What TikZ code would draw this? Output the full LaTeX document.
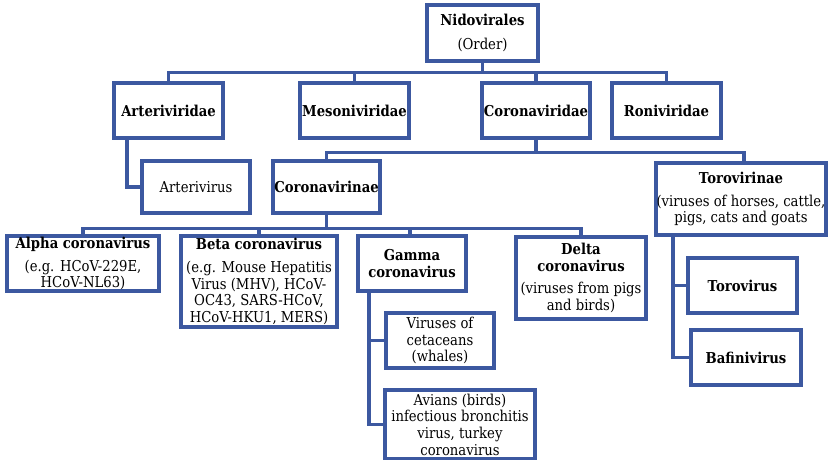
\documentclass[tikz,border=0pt]{standalone}
\usepackage{fontspec}
\setmainfont{DejaVu Serif}[FakeStretch=0.88]
\definecolor{boxblue}{RGB}{60,88,160}
\begin{document}
\begin{tikzpicture}[x=1pt,y=-1pt,
  box/.style={draw=boxblue, line width=3.4pt, fill=white, inner sep=0pt, align=center,
    font=\fontsize{15}{16.7}\selectfont, text=black},
  conn/.style={draw=boxblue, line width=3.4pt, line join=miter}]
\fill[white] (0,0) rectangle (828,460);
\useasboundingbox (0,0) rectangle (828,460);

% boxes
\node[box, minimum width=111pt, minimum height=56pt] (nido) at (482.5,33) {\textbf{Nidovirales}\\[7pt](Order)};
\node[box, minimum width=109pt, minimum height=55pt] (arteriviridae) at (168.5,110.5) {\textbf{Arteriviridae}};
\node[box, minimum width=109pt, minimum height=55pt] (mesoniviridae) at (354.5,110.5) {\textbf{Mesoniviridae}};
\node[box, minimum width=108pt, minimum height=55pt] (coronaviridae) at (536,110.5) {\textbf{Coronaviridae}};
\node[box, minimum width=109pt, minimum height=55pt] (roniviridae) at (666.5,110.5) {\textbf{Roniviridae}};
\node[box, minimum width=108pt, minimum height=52pt] (arterivirus) at (196,187) {Arterivirus};
\node[box, minimum width=107pt, minimum height=52pt] (coronavirinae) at (326.5,187) {\textbf{Coronavirinae}};
\node[box, minimum width=170pt, minimum height=72pt] (torovirinae) at (741,199) {\textbf{Torovirinae}\\[6pt](viruses of horses, cattle,\\pigs, cats and goats};
\node[box, minimum width=152pt, minimum height=55pt] (alpha) at (83,263.5) {\textbf{Alpha coronavirus}\\[6pt](e.g. HCoV-229E,\\HCoV-NL63)};
\node[box, minimum width=156pt, minimum height=91pt] (beta) at (259,281.5) {\textbf{Beta coronavirus}\\[6pt](e.g. Mouse Hepatitis\\Virus (MHV), HCoV-\\OC43, SARS-HCoV,\\HCoV-HKU1, MERS)};
\node[box, minimum width=108pt, minimum height=55pt] (gamma) at (412,263.5) {\textbf{Gamma}\\\textbf{coronavirus}};
\node[box, minimum width=130pt, minimum height=82pt] (delta) at (581,278) {\textbf{Delta}\\\textbf{coronavirus}\\[6pt](viruses from pigs\\and birds)};
\node[box, minimum width=108pt, minimum height=55pt] (cetaceans) at (440,340.5) {Viruses of\\cetaceans\\(whales)};
\node[box, minimum width=150pt, minimum height=69pt] (avians) at (460,424.5) {Avians (birds)\\infectious bronchitis\\virus, turkey\\coronavirus};
\node[box, minimum width=109pt, minimum height=55pt] (torovirus) at (742.5,285.5) {\textbf{Torovirus}};
\node[box, minimum width=110pt, minimum height=55pt] (bafinivirus) at (746,357.5) {\textbf{Bafinivirus}};

% connectors
\draw[conn] (nido.south) -- ++(0,10) -| (arteriviridae.north);
\draw[conn] (nido.south) -- ++(0,10) -| (mesoniviridae.north);
\draw[conn] (nido.south) -- ++(0,10) -| (coronaviridae.north);
\draw[conn] (nido.south) -- ++(0,10) -| (roniviridae.north);
\draw[conn] ([xshift=-41.5pt]arteriviridae.south) |- (arterivirus.west);
\draw[conn] (coronaviridae.south) -- ++(0,13) -| (coronavirinae.north);
\draw[conn] (coronaviridae.south) -- ++(0,13) -| ([xshift=3pt]torovirinae.north);
\draw[conn] (coronavirinae.south) -- ++(0,14) -| (alpha.north);
\draw[conn] (coronavirinae.south) -- ++(0,14) -| (beta.north);
\draw[conn] (coronavirinae.south) -- ++(0,14) -| ([xshift=-2pt]gamma.north);
\draw[conn] (coronavirinae.south) -- ++(0,14) -| (delta.north);
\draw[conn] ([xshift=-43pt]gamma.south) |- (cetaceans.west);
\draw[conn] ([xshift=-43pt]gamma.south) |- (avians.west);
\draw[conn] ([xshift=-68pt]torovirinae.south) |- (torovirus.west);
\draw[conn] ([xshift=-68pt]torovirinae.south) |- (bafinivirus.west);
\end{tikzpicture}
\end{document}
